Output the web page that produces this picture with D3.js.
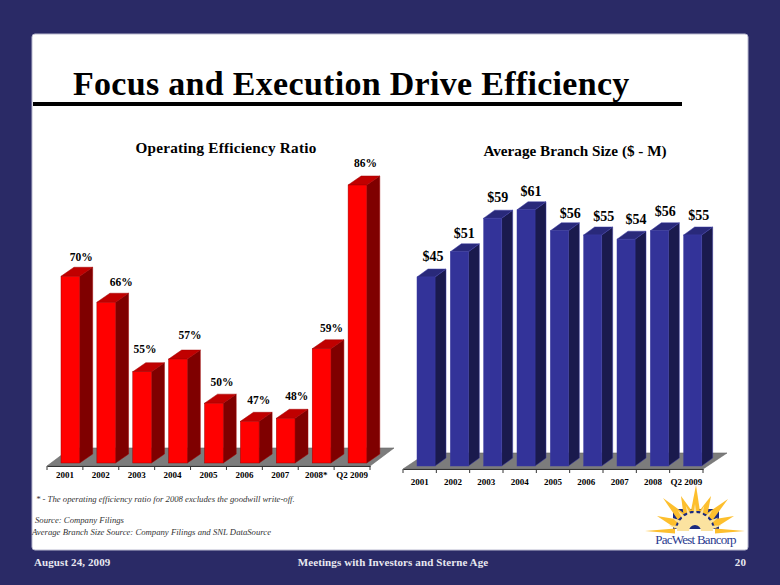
<!DOCTYPE html>
<html><head><meta charset="utf-8">
<script src="https://cdn.jsdelivr.net/npm/d3@7"></script>
<style>html,body{margin:0;padding:0;background:#2a2a66}svg{display:block}text{font-family:"Liberation Serif",serif;font-weight:bold;fill:#000}</style>
</head><body><svg id="c" width="780" height="585"></svg>
<script>
const ratioCategories=["2001","2002","2003","2004","2005","2006","2007","2008*","Q2 2009"];
const ratioValues=[70.9,66.6,55.1,57.2,49.9,46.9,47.4,58.9,86];
const ratioLabels=["70%","66%","55%","57%","50%","47%","48%","59%","86%"];
const branchCategories=["2001","2002","2003","2004","2005","2006","2007","2008","Q2 2009"];
const branchValues=[45,51,59,61,56,55,54,56,55];
const branchLabels=["$45","$51","$59","$61","$56","$55","$54","$56","$55"];

const svg=d3.select("#c");
svg.append("rect").attr("width",780).attr("height",585).attr("fill","#2a2a66");
svg.append("rect").attr("x",32).attr("y",34).attr("width",716).attr("height",516).attr("rx",3).attr("fill","#fff").attr("stroke","#b9b9cf").attr("stroke-width",1);
svg.append("text").attr("x",73).attr("y",95).attr("font-size",34).style("letter-spacing","0.3px").text("Focus and Execution Drive Efficiency");
svg.append("rect").attr("x",33).attr("y",102).attr("width",649).attr("height",4).attr("fill","#000");

function chart(o){
  const g=svg.append("g");
  const x=d3.scaleBand().domain(o.cats).range([o.x0,o.x1]);
  const y=d3.scaleLinear().domain(o.domain).range([o.base,o.top]);
  const [fd,fh]=o.floor;
  const fy=o.floorY;
  g.append("polygon").attr("points",[[o.x0,fy],[o.x1,fy],[o.x1+fd,fy-fh],[o.x0+fd,fy-fh]].join(" ")).attr("fill","#7c7c7c").attr("stroke","#666").attr("stroke-width",.6);
  const tickG=g.append("g").attr("transform",`translate(0,${fy})`);
  const axis=d3.axisBottom(x).tickSize(0).tickPadding(o.tickPad);
  tickG.call(axis);
  tickG.select(".domain").attr("stroke","#333").attr("stroke-width",1);
  tickG.selectAll("text").attr("font-size",9).attr("font-family","Liberation Serif").attr("font-weight","bold").attr("fill","#000");
  tickG.selectAll("line.t").data(d3.range(o.cats.length+1)).join("line").attr("class","t")
    .attr("x1",i=>x.step()*i+o.x0).attr("x2",i=>x.step()*i+o.x0).attr("y1",0).attr("y2",4).attr("stroke","#333");
  const bw=x.bandwidth()*o.barFrac;
  const off=o.barOff, dx=o.depth[0], dy=o.depth[1];
  const bars=g.selectAll("g.b").data(o.vals).join("g").attr("class","b");
  bars.append("polygon").attr("points",(d,i)=>{const l=x(o.cats[i])+off,r=l+bw,t=y(d);return [[r,t],[r+dx,t-dy],[r+dx,o.base-dy],[r,o.base]].join(" ")}).attr("fill",o.cSide).attr("stroke",o.cEdge).attr("stroke-width",.5);
  bars.append("polygon").attr("points",(d,i)=>{const l=x(o.cats[i])+off,r=l+bw,t=y(d);return [[l,t],[r,t],[r+dx,t-dy],[l+dx,t-dy]].join(" ")}).attr("fill",o.cTop).attr("stroke",o.cEdge).attr("stroke-width",.5);
  bars.append("rect").attr("x",(d,i)=>x(o.cats[i])+off).attr("y",d=>y(d)).attr("width",bw).attr("height",d=>o.base-y(d)).attr("fill",o.cFront).attr("stroke",o.cEdge).attr("stroke-width",.5);
  bars.append("text").attr("text-anchor","middle").attr("x",(d,i)=>x(o.cats[i])+off+bw/2+o.nudge[i]).attr("y",(d,i)=>y(d)-dy-o.labGap+o.lift[i]).attr("font-size",o.labSize).text((d,i)=>o.labels[i]);
  g.append("text").attr("x",o.titleX).attr("y",o.titleY).attr("text-anchor","middle").attr("font-size",15.2).style("letter-spacing",o.titleSp).text(o.title);
}
chart({cats:ratioCategories,vals:ratioValues,labels:ratioLabels,domain:[40,86],x0:47,x1:370,base:463,top:185,floorY:466,floor:[24,18],
  tickPad:6,barFrac:.52,barOff:14,depth:[13,9],cFront:"#ff0000",cSide:"#7f0000",cTop:"#c00000",cEdge:"#a00000",labGap:8,labSize:11.5,
  nudge:[11,15,3,12,8,9,11,10,8],lift:[2,1,-2,-3,0,0,-1,0,-1],title:"Operating Efficiency Ratio",titleX:226,titleY:153,titleSp:"0.25px"});
chart({cats:branchCategories,vals:branchValues,labels:branchLabels,domain:[0,61],x0:403,x1:703,base:466,top:209.8,floorY:469,floor:[24,16],
  tickPad:10,barFrac:.54,barOff:14,depth:[11,8],cFront:"#333399",cSide:"#1a1a4d",cTop:"#29297a",cEdge:"#3a3aa0",labGap:6,labSize:14,
  nudge:[7,5,5,5,11,11,10,6,6],lift:[-2,0,-2,0,1,0,-1,-1,-1],title:"Average Branch Size ($ - M)",titleX:575,titleY:156,titleSp:"0px"});

function note(t,x,y){svg.append("text").attr("x",x).attr("y",y).attr("font-size",8.7).style("font-weight","normal").style("font-style","italic").style("fill","#333").text(t)}
note("* - The operating efficiency ratio for 2008 excludes the goodwill write-off.",36,502);
note("Source: Company Filings",35,523);
note("Average Branch Size Source: Company Filings and SNL DataSource",32,535);
function foot(t,x,y,a){svg.append("text").attr("x",x).attr("y",y).attr("text-anchor",a).attr("font-size",11).style("letter-spacing","0.1px").style("fill","#e8e8f0").text(t)}
foot("August 24, 2009",34,566,"start");
foot("Meetings with Investors and Sterne Age",393,566,"middle");
foot("20",746,566,"end");

// logo (decoration)
const logo=svg.append("g");
const cx=695,cy=531;
logo.append("rect").attr("x",673).attr("y",509).attr("width",46).attr("height",20).attr("fill","#1a2a80");
const tips=[[645,531],[657,516],[663,498],[681,496],[696,485],[711,496],[728,499],[734,516],[745,531]];
tips.forEach(([tx,ty],i)=>{const a=Math.atan2(ty-cy,tx-cx),w=(i===0||i===8)?2.5:4.5,b=20,nx=-Math.sin(a),ny=Math.cos(a);
  logo.append("polygon").attr("points",[[cx+b*Math.cos(a)+nx*w,cy+b*Math.sin(a)+ny*w],[cx+b*Math.cos(a)-nx*w,cy+b*Math.sin(a)-ny*w],[tx,ty]].join(" ")).attr("fill","#fdbf2d");});
logo.append("path").attr("d",d3.arc()({innerRadius:6,outerRadius:18,startAngle:-Math.PI/2,endAngle:Math.PI/2})).attr("transform",`translate(${cx},${cy})`).attr("fill","#fbe3a0");
[-168,-150,-130,-110,-90,-70,-50,-30,-12].forEach(a=>{const r=a*Math.PI/180;logo.append("polygon").attr("points",[[cx+14*Math.cos(r-.17),cy+14*Math.sin(r-.17)],[cx+14*Math.cos(r+.17),cy+14*Math.sin(r+.17)],[cx+27*Math.cos(r),cy+27*Math.sin(r)]].join(" ")).attr("fill","#fbe3a0");});
svg.append("text").attr("x",695.5).attr("y",544).attr("text-anchor","middle").attr("font-size",13).style("letter-spacing","-0.75px").style("font-weight","normal").style("fill","#2a3a8f").text("PacWest Bancorp");
</script></body></html>
